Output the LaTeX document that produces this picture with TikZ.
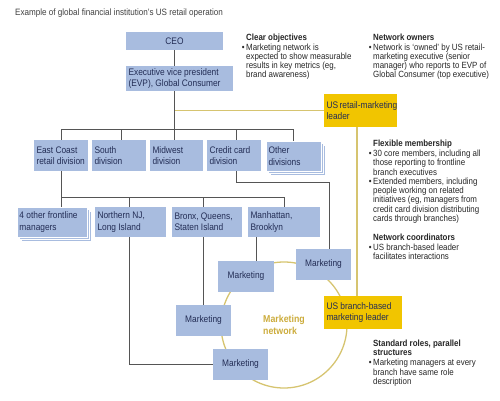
\documentclass[tikz,border=0pt]{standalone}
\usepackage{fontspec}
\setmainfont{Liberation Sans}[FakeStretch=0.88]
\usetikzlibrary{shadows,positioning,calc,backgrounds}
\definecolor{boxblue}{RGB}{168,188,223}
\definecolor{navy}{RGB}{35,45,85}
\definecolor{gold}{RGB}{241,197,0}
\definecolor{olive}{RGB}{214,196,112}
\definecolor{netgold}{RGB}{204,172,60}
\definecolor{wirecol}{RGB}{85,85,85}
\tikzset{unit/.style={fill=boxblue, text=navy, align=flush left, inner xsep=2.5pt, inner ysep=0pt, font=\fontsize{9.5}{11.3}\selectfont,
    execute at begin node={\hyphenpenalty=10000\exhyphenpenalty=10000}},
  lead/.style={unit, fill=gold},
  stack/.style={draw=white, line width=0.6pt, double copy shadow={shadow xshift=2.2pt, shadow yshift=-2.2pt, draw=white, fill=boxblue}},
  note/.style={anchor=north west, inner sep=0pt, align=left, text=black!85, font=\fontsize{9}{9.25}\selectfont},
  wire/.style={draw=wirecol, line width=0.8pt},
  tie/.style={draw=olive, line width=1.3pt}}
\newcommand{\bul}{\llap{\textbullet\hspace{1.6pt}}}
\begin{document}
\begin{tikzpicture}[x=1pt, y=-1pt]
\useasboundingbox (0,0) rectangle (500,401);
% title
\node[note, text=black!75, font=\fontsize{9.2}{10}\selectfont] (title) at (15,8.5) {Example of global financial institution's US retail operation};
% top of the chart
\node[unit, align=flush center, minimum width=97pt, text width=92pt, minimum height=18pt] (ceo) at (174.5,41) {CEO};
\node[unit, minimum width=107pt, text width=102pt, minimum height=25pt] (evp) at (179.5,78.5) {Executive~vice~president\\(EVP),~Global~Consumer};
\node[lead, minimum width=73pt, text width=68pt, minimum height=33pt] (rml) at (360.5,110.5) {US~retail-marketing\\leader};
% divisions
\node[unit, minimum width=54pt, text width=49pt, minimum height=31pt] (east) at (61,155.5) {East~Coast\\retail~division};
\node[unit, minimum width=54pt, text width=49pt, minimum height=31pt] (south) at (119,155.5) {South\\division};
\node[unit, minimum width=53pt, text width=48pt, minimum height=31pt] (midwest) at (176.5,155.5) {Midwest\\division};
\node[unit, minimum width=54pt, text width=49pt, minimum height=31pt] (credit) at (234,155.5) {Credit~card\\division};
\node[unit, stack, minimum width=55pt, text width=50pt, minimum height=30pt] (other) at (293.5,156) {Other\\divisions};
% frontline
\node[unit, stack, minimum width=70pt, text width=65pt, minimum height=30pt] (front) at (52,222) {4~other~frontline\\managers};
\node[unit, minimum width=71pt, text width=66pt, minimum height=30pt] (nj) at (130.5,222) {Northern~NJ,\\Long~Island};
\node[unit, minimum width=70pt, text width=65pt, minimum height=30pt] (bronx) at (207,222) {Bronx,~Queens,\\Staten~Island};
\node[unit, minimum width=72pt, text width=67pt, minimum height=30pt] (manh) at (284,222) {Manhattan,\\Brooklyn};
% marketing network
\node[circle, tie, minimum size=126pt, inner sep=0pt, align=left, text=netgold, font=\bfseries\fontsize{10}{11.5}\selectfont] (ring) at (284,325) {Marketing\\network};
\node[unit, align=flush center, minimum width=56pt, text width=51pt, minimum height=31pt] (mk1) at (246,276.5) {Marketing};
\node[unit, align=flush center, minimum width=55pt, text width=50pt, minimum height=31pt] (mk2) at (323.5,264.5) {Marketing};
\node[unit, align=flush center, minimum width=55pt, text width=50pt, minimum height=31pt] (mk3) at (203.5,320.5) {Marketing};
\node[unit, align=flush center, minimum width=55pt, text width=50pt, minimum height=31pt] (mk4) at (240.5,364.5) {Marketing};
\node[lead, minimum width=78pt, text width=73pt, minimum height=33pt] (bml) at (363,312.5) {US~branch-based\\marketing~leader};
% connectors
\begin{scope}[on background layer]
\coordinate (bus) at (174,129);
\path[wire] (ceo.south) -- (ceo.south |- midwest.north)
  (east.north |- bus) -- (other.north |- bus)
  (east.north |- bus) -- (east.north)
  ([xshift=2pt]south.north |- bus) -- ([xshift=2pt]south.north)
  ([xshift=2pt]credit.north |- bus) -- ([xshift=2pt]credit.north)
  ([xshift=-0.5pt]other.north |- bus) -- ([xshift=-0.5pt]other.north);
\path[wire] ([xshift=2pt]credit.south) -- ++(0,11) -| ([xshift=5.5pt]mk2.north);
\coordinate (bus2) at (61,197);
\path[wire] (east.south) -- (east.south |- front.north)
  (east.south |- bus2) -- (manh.north |- bus2)
  ([xshift=-1.5pt]nj.north |- bus2) -- ([xshift=-1.5pt]nj.north)
  (mk3.north |- bus2) -- (mk3.north |- bronx.north)
  (manh.north |- bus2) -- (manh.north)
  ([xshift=10pt]mk1.north |- manh.south) -- ([xshift=10pt]mk1.north)
  (mk3.north |- bronx.south) -- (mk3.north);
\path[wire] ([xshift=-1.5pt]nj.south) |- (mk4.west);
\path[tie] (rml.west) -- (rml.west -| ceo.south)
  ([xshift=-3.5pt]rml.south) -- ([xshift=-3.5pt]rml.south |- bml.north);
\end{scope}
% notes
\node[note] (goals) at (246,33.5) {\textbf{Clear objectives}\\[0.6pt]
  \bul Marketing network is\\ expected to show measurable\\ results in key metrics (eg,\\ brand awareness)};
\node[note] (owners) at (373,33.5) {\textbf{Network owners}\\[0.6pt]
  \bul Network is `owned' by US retail-\\ marketing executive (senior\\ manager) who reports to EVP of\\ Global Consumer (top executive)};
\node[note] (members) at (373,139.5) {\textbf{Flexible membership}\\[1.2pt]
  \bul 30 core members, including all\\ those reporting to frontline\\ branch executives\\
  \bul Extended members, including\\ people working on related\\ initiatives (eg, managers from\\ credit card division distributing\\ cards through branches)};
\node[note] (coord) at (373,233.5) {\textbf{Network coordinators}\\[1.2pt]
  \bul US branch-based leader\\ facilitates interactions};
\node[note] (roles) at (373,340) {\textbf{Standard roles, parallel}\\ \textbf{structures}\\[0.6pt]
  \bul Marketing managers at every\\ branch have same role\\ description};
\end{tikzpicture}
\end{document}
